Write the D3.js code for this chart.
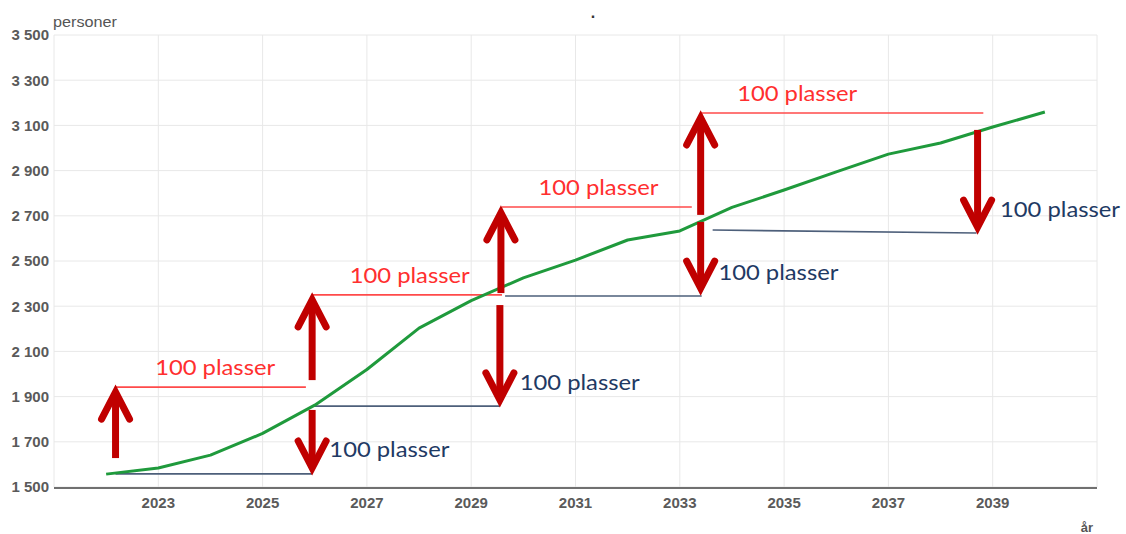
<!DOCTYPE html>
<html><head><meta charset="utf-8">
<script src="https://cdn.jsdelivr.net/npm/d3@7/dist/d3.min.js"></script>
<style>html,body{margin:0;padding:0;background:#fff;}svg{display:block;}</style>
</head><body>
<svg id="chart" width="1126" height="534"></svg>
<script>
// ---- data ----
const years = [2022,2023,2024,2025,2026,2027,2028,2029,2030,2031,2032,2033,2034,2035,2036,2037,2038,2039,2040];
const persons = [1557,1584,1641,1737,1862,2020,2203,2325,2425,2504,2593,2633,2737,2814,2894,2973,3022,3093,3159];
const yTicks = [1500,1700,1900,2100,2300,2500,2700,2900,3100,3300,3500];
const xTickLabels = [2023,2025,2027,2029,2031,2033,2035,2037,2039];
const xGrid = [2021,2023,2025,2027,2029,2031,2033,2035,2037,2039,2041];
// arrows: [year, fromValue, toValue]
const arrows = [
  [2022.18,1628,1942],[2025.95,1841,1562],[2025.95,1973,2350],[2029.55,2305,1863],
  [2029.57,2358,2735],[2033.40,2673,2358],[2033.40,2704,3155],[2038.71,3080,2628]
];
// red level lines: [yearStart, yearEnd, value]
const redLines = [[2022.18,2025.83,1942],[2025.95,2029.59,2350],[2029.59,2033.23,2739],[2033.42,2038.82,3155]];
// blue level lines: [yearStart, yearEnd, valueStart, valueEnd]
const blueLines = [[2022.18,2025.95,1558,1558],[2025.95,2029.55,1858,1858],[2029.65,2033.42,2345,2345],[2033.63,2038.69,2637,2624]];
// labels: [year, value]
const redLabels = [[2022.94,1996],[2026.67,2403],[2030.29,2792],[2034.10,3208]];
const blueLabels = [[2026.28,1633],[2029.93,1929],[2033.74,2416],[2039.14,2695]];
const labelText = "100 plasser";

// ---- chart ----
const svg = d3.select("#chart");
const x = d3.scaleLinear().domain([2021,2041]).range([54,1097]);
const y = d3.scaleLinear().domain([1500,3500]).range([487,35]);
const fmt = d3.formatLocale({decimal:",",thousands:" ",grouping:[3],currency:["",""]}).format(",d");

const grid = svg.append("g");
grid.selectAll(".h").data(yTicks).join("line")
  .attr("x1",x(2021)).attr("x2",x(2041)).attr("y1",d=>y(d)).attr("y2",d=>y(d))
  .attr("stroke","#e8e8e8").attr("stroke-width",1);
grid.selectAll(".v").data(xGrid).join("line")
  .attr("x1",d=>x(d)).attr("x2",d=>x(d)).attr("y1",y(3500)).attr("y2",y(1500))
  .attr("stroke","#e8e8e8").attr("stroke-width",1);

// axis line
svg.append("line").attr("x1",x(2021)).attr("x2",x(2041)).attr("y1",y(1500)+1).attr("y2",y(1500)+1)
  .attr("stroke","#707070").attr("stroke-width",2);

// y labels
svg.append("g").selectAll("text").data(yTicks).join("text")
  .attr("x",49).attr("y",d=>y(d)).attr("dy","0.36em").attr("text-anchor","end")
  .attr("font-family","Liberation Sans, Arial, sans-serif").attr("font-size",15).attr("font-weight","bold")
  .attr("fill","#5a5a5a").text(d=>fmt(d));
// x labels
svg.append("g").selectAll("text").data(xTickLabels).join("text")
  .attr("x",d=>x(d)).attr("y",508).attr("text-anchor","middle")
  .attr("font-family","Liberation Sans, Arial, sans-serif").attr("font-size",15).attr("font-weight","bold")
  .attr("fill","#5a5a5a").text(d=>d);

svg.append("text").attr("x",53).attr("y",27).attr("font-family","Liberation Sans, Arial, sans-serif")
  .attr("font-size",15).attr("fill","#555").attr("textLength",64).attr("lengthAdjust","spacingAndGlyphs").text("personer");
svg.append("text").attr("x",1087).attr("y",532).attr("text-anchor","middle").attr("font-family","Liberation Sans, Arial, sans-serif")
  .attr("font-size",13).attr("font-weight","bold").attr("fill","#555").text("år");
svg.append("text").attr("x",593).attr("y",18).attr("text-anchor","middle").attr("font-family","Liberation Sans, Arial, sans-serif")
  .attr("font-size",16).attr("font-weight","bold").attr("fill","#333").text(".");

// blue & red level lines
svg.append("g").selectAll("line").data(blueLines).join("line")
  .attr("x1",d=>x(d[0])).attr("x2",d=>x(d[1])).attr("y1",d=>y(d[2])).attr("y2",d=>y(d[3]))
  .attr("stroke","#4d5f7a").attr("stroke-width",1.6);
svg.append("g").selectAll("line").data(redLines).join("line")
  .attr("x1",d=>x(d[0])).attr("x2",d=>x(d[1])).attr("y1",d=>y(d[2])).attr("y2",d=>y(d[2]))
  .attr("stroke","#ff4a4a").attr("stroke-width",1.6);

// green line
svg.append("path").datum(years.map((yr,i)=>[yr,persons[i]]))
  .attr("d",d3.line().x(d=>x(d[0])).y(d=>y(d[1])))
  .attr("fill","none").attr("stroke","#1f9a3c").attr("stroke-width",3).attr("stroke-linejoin","round");

// arrows
const ag = svg.append("g").attr("stroke","#c00000").attr("fill","none").attr("stroke-width",7);
arrows.forEach(([yr,from,to])=>{
  const px = x(yr), y0 = y(from), y1 = y(to);
  const dir = y1 < y0 ? 1 : -1; // 1 = pointing up
  const apex = y1 + dir*5;
  ag.append("line").attr("x1",px).attr("x2",px).attr("y1",y0).attr("y2",apex)
    .attr("stroke-linecap","butt");
  ag.append("path").attr("d",`M${px-14},${apex+dir*27}L${px},${apex}L${px+14},${apex+dir*27}`)
    .attr("stroke-linejoin","miter").attr("stroke-linecap","round");
});

// labels
const lab = (data,color)=>svg.append("g").selectAll("text").data(data).join("text")
  .attr("x",d=>x(d[0])).attr("y",d=>y(d[1]))
  .attr("font-family","Lato, 'Open Sans', sans-serif").attr("font-size",22)
  .attr("textLength",120).attr("lengthAdjust","spacingAndGlyphs")
  .attr("fill",color).text(labelText);
lab(redLabels,"#ff2f2f");
lab(blueLabels,"#1f3a64");
</script>
</body></html>
